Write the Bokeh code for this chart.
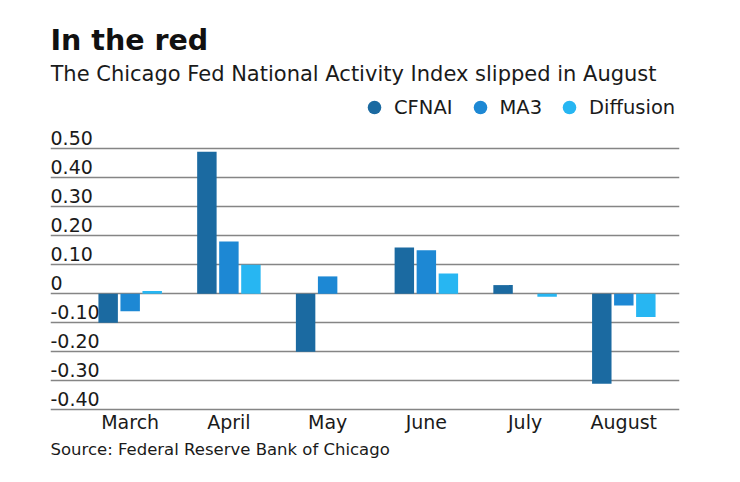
from bokeh.plotting import figure
from bokeh.models import (ColumnDataSource, Range1d, FixedTicker, Label, Legend, LegendItem)
from bokeh.transform import dodge
from bokeh.core.properties import value
from bokeh.embed import file_html
from bokeh.resources import INLINE

months = ["March", "April", "May", "June", "July", "August"]
cfnai = [-0.10, 0.49, -0.20, 0.16, 0.03, -0.31]
ma3 = [-0.06, 0.18, 0.06, 0.15, 0.00, -0.04]
diffusion = [0.01, 0.10, 0.00, 0.07, -0.01, -0.08]
tick_values = [0.5, 0.4, 0.3, 0.2, 0.1, 0.0, -0.1, -0.2, -0.3, -0.4]
tick_labels = ["0.50", "0.40", "0.30", "0.20", "0.10", "0", "-0.10", "-0.20", "-0.30", "-0.40"]

title_text = "In the red"
subtitle_text = "The Chicago Fed National Activity Index slipped in August"
source_text = "Source: Federal Reserve Bank of Chicago"

C_CFNAI = "#1b6aa1"
C_MA3 = "#1d88d4"
C_DIFF = "#27b6f2"
TEXT = "#1a1a1a"
FONT = "DejaVu Sans"

x_idx = list(range(len(months)))
src = ColumnDataSource(dict(x=x_idx, cfnai=cfnai, ma3=ma3, diffusion=diffusion))

# the frame spans the whole height so every text can live inside it
p = figure(width=740, height=482, output_backend="svg", toolbar_location=None,
           x_range=Range1d(-0.807, 5.564), y_range=Range1d(-0.6507, 1.0114),
           x_axis_location=None, y_axis_location=None,
           min_border_left=50, min_border_right=61, min_border_top=0, min_border_bottom=0)
p.outline_line_color = None
p.background_fill_color = "white"
p.border_fill_color = "white"
p.xgrid.visible = False
p.ygrid.ticker = FixedTicker(ticks=tick_values)
p.ygrid.grid_line_color = "#858585"
p.ygrid.grid_line_width = 1.3

bw = 0.197
off = 0.223
r1 = p.vbar(x=dodge("x", -off, range=p.x_range), top="cfnai", bottom=0, width=bw,
            source=src, fill_color=C_CFNAI, line_color=None)
r2 = p.vbar(x=dodge("x", 0, range=p.x_range), top="ma3", bottom=0, width=bw,
            source=src, fill_color=C_MA3, line_color=None)
r3 = p.vbar(x=dodge("x", off, range=p.x_range), top="diffusion", bottom=0, width=bw,
            source=src, fill_color=C_DIFF, line_color=None)

# y tick labels sitting on top of their gridlines
lift = 0.0386
tsrc = ColumnDataSource(dict(y=[t + lift for t in tick_values], t=tick_labels,
                             x=[p.x_range.start] * len(tick_values)))
p.text(x="x", y="y", text="t", source=tsrc, text_align="left", text_baseline="middle",
       text_font=value(FONT), text_font_size="19px", text_color=TEXT)

# month labels under the lowest gridline
drop = 0.0424
msrc = ColumnDataSource(dict(x=x_idx, y=[min(tick_values) - drop] * len(months), t=months))
p.text(x="x", y="y", text="t", source=msrc, text_align="center", text_baseline="middle",
       text_font=value(FONT), text_font_size="19px", text_color=TEXT)

# legend with circle markers
nan = float("nan")
d1 = p.scatter(x=[nan], y=[nan], marker="circle", fill_color=C_CFNAI, line_color=None)
d2 = p.scatter(x=[nan], y=[nan], marker="circle", fill_color=C_MA3, line_color=None)
d3 = p.scatter(x=[nan], y=[nan], marker="circle", fill_color=C_DIFF, line_color=None)
legend = Legend(items=[LegendItem(label="CFNAI", renderers=[d1]),
                       LegendItem(label="MA3", renderers=[d2]),
                       LegendItem(label="Diffusion", renderers=[d3])],
                orientation="horizontal", location=(307, 358),
                glyph_width=34, glyph_height=34, label_standoff=3, spacing=10,
                padding=0, margin=0, border_line_color=None, background_fill_alpha=0,
                label_text_font=FONT, label_text_font_size="19.5px", label_text_color=TEXT)
p.add_layout(legend, "center")

p.add_layout(Label(x=p.x_range.start, y=0.8745, text=title_text, text_font=FONT,
                   text_font_size="28.5px", text_font_style="bold", text_color="#111111",
                   text_baseline="middle"))
p.add_layout(Label(x=p.x_range.start, y=0.7572, text=subtitle_text, text_font=FONT,
                   text_font_size="21px", text_color=TEXT, text_baseline="middle"))
p.add_layout(Label(x=p.x_range.start, y=-0.5352, text=source_text, text_font=FONT,
                   text_font_size="16.5px", text_color=TEXT, text_baseline="middle"))

open("out.html", "w").write(file_html(p, INLINE))
